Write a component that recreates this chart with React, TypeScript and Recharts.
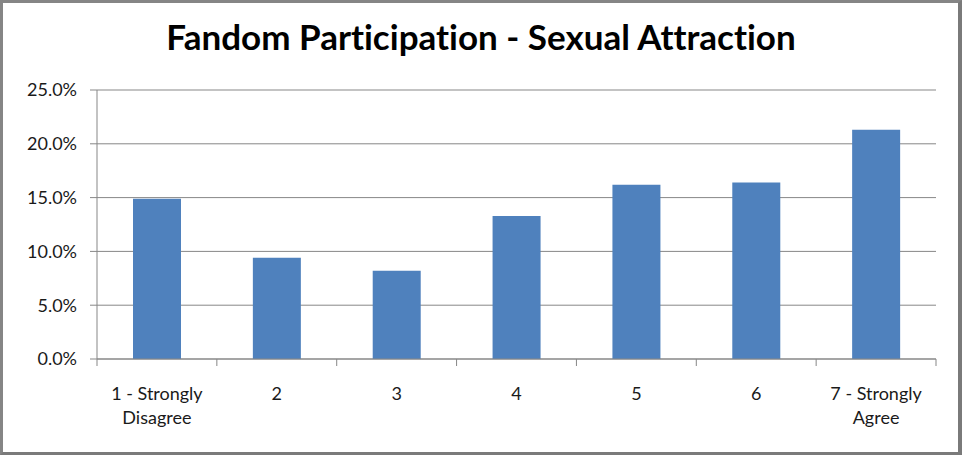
import { BarChart, Bar, XAxis, YAxis, CartesianGrid } from 'recharts';

const categories = [
    '1 - Strongly Disagree',
    '2',
    '3',
    '4',
    '5',
    '6',
    '7 - Strongly Agree',
];
const shares = [14.9, 9.4, 8.2, 13.3, 16.2, 16.4, 21.3];
const yTicks = [0, 5, 10, 15, 20, 25];

const data = categories.map((name, i) => ({ name, share: shares[i] }));

const WIDTH = 962;
const HEIGHT = 455;
const MARGIN = { top: 90, right: 26, left: 0, bottom: 0 };
const Y_AXIS_WIDTH = 97;
// width of one category slot, used to put the x ticks between bars
const BAND = (WIDTH - MARGIN.left - MARGIN.right - Y_AXIS_WIDTH) / categories.length;

const AXIS_GRAY = '#878787';
const TEXT = '#1a1a1a';
const FONT = 'Lato, "Open Sans", sans-serif';

// Break long labels into two lines at the last space, like Excel does
function splitLabel(label: string): string[] {
    if (label.length < 8) return [label];
    const cut = label.lastIndexOf(' ');
    return [label.slice(0, cut), label.slice(cut + 1)];
}

function CategoryTick(props: any) {
    const { x, y, payload, index } = props;
    const half = BAND / 2;
    const lines = splitLabel(String(payload.value));
    return (
        <g>
            <line x1={x - half} y1={y} x2={x - half} y2={y + 7} stroke={AXIS_GRAY} />
            {index === categories.length - 1 && (
                <line x1={x + half} y1={y} x2={x + half} y2={y + 7} stroke={AXIS_GRAY} />
            )}
            {lines.map((line, i) => (
                <text
                    key={line}
                    x={x}
                    y={y + 41 + i * 24}
                    textAnchor="middle"
                    fill={TEXT}
                    fontSize={18}
                    fontFamily={FONT}
                >
                    {line}
                </text>
            ))}
        </g>
    );
}

export default function App() {
    return (
        <div
            style={{
                position: 'absolute',
                left: 0,
                top: 0,
                width: WIDTH,
                height: HEIGHT,
                background: 'white',
                fontFamily: FONT,
            }}
        >
            <div
                style={{
                    position: 'absolute',
                    left: 0,
                    top: 15,
                    width: WIDTH,
                    textAlign: 'center',
                    fontSize: 35,
                    fontWeight: 700,
                    fontVariantLigatures: 'none',
                    color: '#000',
                }}
            >
                Fandom Participation - Sexual Attraction
            </div>
            <BarChart width={WIDTH} height={HEIGHT} data={data} margin={MARGIN}>
                <CartesianGrid vertical={false} stroke={AXIS_GRAY} strokeWidth={1} />
                <XAxis
                    dataKey="name"
                    axisLine={{ stroke: AXIS_GRAY }}
                    tickLine={false}
                    tickSize={0}
                    tickMargin={0}
                    height={96}
                    interval={0}
                    tick={<CategoryTick />}
                />
                <YAxis
                    width={Y_AXIS_WIDTH}
                    domain={[0, 25]}
                    ticks={yTicks}
                    axisLine={{ stroke: AXIS_GRAY }}
                    tickLine={{ stroke: AXIS_GRAY }}
                    tickSize={7}
                    tickMargin={13}
                    tickFormatter={(v: number) => `${v.toFixed(1)}%`}
                    tick={{ fontSize: 18, fill: TEXT, fontFamily: FONT }}
                />
                <Bar dataKey="share" fill="#4f81bd" barSize={48} isAnimationActive={false} />
            </BarChart>
            <div
                style={{
                    position: 'absolute',
                    left: 0,
                    top: 0,
                    width: WIDTH,
                    height: HEIGHT,
                    boxSizing: 'border-box',
                    borderTop: '3px solid #858585',
                    borderLeft: '3px solid #858585',
                    borderRight: '4px solid #7a7a7a',
                    borderBottom: '3px solid #7a7a7a',
                    pointerEvents: 'none',
                }}
            />
        </div>
    );
}
